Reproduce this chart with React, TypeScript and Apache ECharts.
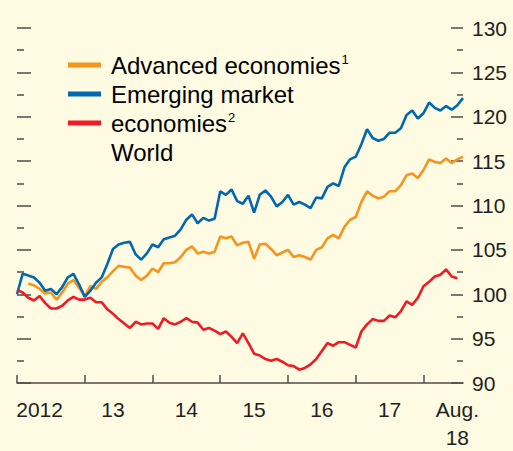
import React, { useEffect, useRef } from "react";
import * as echarts from "echarts";

const START_YEAR = 2012;
const N_MONTHS = 80; // Jan 2012 .. Aug 2018

const advanced: (number | null)[] = [
  null, null, 101.2, 101.0, 100.6, 100.1, 100.2, 99.4, 100.2, 101.2, 101.6, 100.7,
  99.8, 100.9, 100.6, 101.4, 101.9, 102.6, 103.2, 103.1, 103.0, 102.1, 101.6, 102.1,
  102.9, 102.5, 103.5, 103.5, 103.6, 104.2, 105.0, 105.4, 104.6, 104.8, 104.6, 104.8,
  106.5, 106.3, 106.5, 105.5, 105.8, 105.9, 104.0, 105.6, 105.7, 105.1, 104.4, 104.7,
  105.0, 104.2, 104.4, 104.2, 103.9, 105.0, 105.3, 106.3, 106.7, 106.3, 107.6, 108.4,
  108.7, 110.4, 111.6, 111.1, 110.8, 111.0, 111.6, 111.6, 112.3, 113.4, 113.6, 113.1,
  114.0, 115.2, 114.9, 114.8, 115.3, 114.8, 115.2, 115.5,
];

const emerging: (number | null)[] = [
  100.0, 102.3, 102.1, 101.9, 101.3, 100.4, 100.6, 100.0, 100.8, 101.9, 102.3, 101.1,
  99.7, 100.4, 101.3, 101.9, 103.4, 105.1, 105.6, 105.8, 105.9, 104.5, 103.9, 104.6,
  105.6, 105.3, 106.2, 106.4, 106.6, 107.3, 108.4, 109.0, 108.0, 108.6, 108.3, 108.5,
  111.6, 111.2, 111.8, 110.5, 110.2, 111.1, 109.2, 111.2, 111.7, 111.0, 109.9, 110.4,
  111.2, 110.1, 110.4, 110.1, 109.7, 110.9, 110.8, 112.1, 112.5, 112.2, 114.3, 115.2,
  115.5, 116.9, 118.6, 117.6, 117.3, 117.5, 118.2, 118.2, 118.7, 120.2, 120.7, 119.8,
  120.4, 121.6, 121.0, 120.7, 121.2, 120.8, 121.3, 122.1,
];

const world: (number | null)[] = [
  100.5, 100.2, 99.6, 99.3, 99.8, 99.0, 98.4, 98.4, 98.7, 99.3, 99.7, 99.4,
  99.4, 99.6, 99.1, 99.1, 98.3, 97.8, 97.2, 96.7, 96.2, 96.9, 96.6, 96.7,
  96.7, 96.1, 97.3, 96.8, 96.6, 96.9, 97.3, 96.9, 96.8, 96.0, 96.2, 95.9,
  95.5, 95.8, 95.2, 94.5, 95.6, 94.5, 93.3, 93.1, 92.7, 92.5, 92.7, 92.4,
  92.0, 91.9, 91.5, 91.7, 92.1, 92.7, 93.6, 94.5, 94.2, 94.6, 94.6, 94.3,
  94.0, 95.8, 96.6, 97.2, 97.0, 97.0, 97.6, 97.4, 98.1, 99.2, 98.8, 99.6,
  100.9, 101.4, 102.0, 102.2, 102.8, 102.0, 101.8, null,
];

const months: string[] = Array.from({ length: N_MONTHS }, (_, i) => {
  const y = START_YEAR + Math.floor(i / 12);
  const m = (i % 12) + 1;
  return `${y}-${m < 10 ? "0" + m : m}`;
});

// x-axis labels, keyed by the month index they sit under
const xLabels: Record<number, string> = {
  4: "2012",
  17: "13",
  30: "14",
  42: "15",
  54: "16",
  66: "17",
  78: "Aug.\n18",
};

const yMin = 90;
const yMax = 130;
const yStep = 5;

const ORANGE = "#f7941d";
const BLUE = "#0067b1";
const RED = "#ed1c24";
const TEXT = "#231f20";
const TICK = "#4d4d4d";
const BG = "#fefbe2";
const FONT = "'Liberation Sans', Arial, sans-serif";

export default function App() {
  const ref = useRef<HTMLDivElement>(null);

  useEffect(() => {
    document.body.style.margin = "0";
    document.body.style.overflow = "hidden";
    document.documentElement.style.overflow = "hidden";
    if (!ref.current) return;
    const chart = echarts.init(ref.current, undefined, { renderer: "svg" });

    const legendItems = [
      { color: ORANGE, y: 65 },
      { color: BLUE, y: 94 },
      { color: RED, y: 123 },
    ];
    const legendTexts = [
      { text: "{a|Advanced economies}{s|1}", y: 65 },
      { text: "{a|Emerging market}", y: 94 },
      { text: "{a|economies}{s|2}", y: 123 },
      { text: "{a|World}", y: 152 },
    ];
    const rich = {
      a: { fontSize: 24, fontFamily: FONT, color: TEXT },
      s: { fontSize: 13, fontFamily: FONT, color: TEXT, padding: [0, 0, 11, 1] },
    };

    chart.setOption({
      animation: false,
      backgroundColor: BG,
      grid: { left: 17, right: 50, top: 28, bottom: 58, containLabel: false },
      xAxis: {
        type: "category",
        data: months,
        boundaryGap: false,
        axisLine: { show: true, lineStyle: { color: TICK, width: 1.5 } },
        axisTick: {
          show: true,
          inside: true,
          length: 8,
          interval: (i: number) => i % 12 === 0,
          lineStyle: { color: TICK, width: 1.5 },
        },
        axisLabel: {
          show: true,
          interval: (i: number) => xLabels[i] !== undefined,
          formatter: (_v: string, i: number) => xLabels[i] ?? "",
          color: TEXT,
          fontSize: 21,
          fontFamily: FONT,
          margin: 12,
          lineHeight: 28,
        },
        splitLine: { show: false },
      },
      yAxis: [
        {
          type: "value",
          position: "left",
          min: yMin,
          max: yMax,
          interval: yStep,
          axisLine: { show: false },
          axisLabel: { show: false },
          axisTick: { show: true, inside: true, length: 14, lineStyle: { color: TICK, width: 1.5 } },
          minorTick: { show: true, splitNumber: 2, length: 7, lineStyle: { color: TICK, width: 1.5 } },
          splitLine: { show: false },
        },
        {
          type: "value",
          position: "right",
          min: yMin,
          max: yMax,
          interval: yStep,
          axisLine: { show: false },
          axisLabel: { show: true, color: TEXT, fontSize: 21, fontFamily: FONT, margin: 9 },
          axisTick: { show: true, inside: true, length: 12, lineStyle: { color: TICK, width: 1.5 } },
          minorTick: { show: true, splitNumber: 2, length: 6, lineStyle: { color: TICK, width: 1.5 } },
          splitLine: { show: false },
        },
      ],
      series: [
        {
          name: "Advanced economies",
          type: "line",
          data: advanced,
          symbol: "none",
          lineStyle: { color: ORANGE, width: 2.6 },
          itemStyle: { color: ORANGE },
        },
        {
          name: "Emerging market economies",
          type: "line",
          data: emerging,
          symbol: "none",
          lineStyle: { color: BLUE, width: 2.6 },
          itemStyle: { color: BLUE },
        },
        {
          name: "World",
          type: "line",
          data: world,
          symbol: "none",
          lineStyle: { color: RED, width: 2.6 },
          itemStyle: { color: RED },
        },
      ],
      graphic: [
        ...legendItems.map((l) => ({
          type: "line",
          shape: { x1: 68, y1: l.y, x2: 101, y2: l.y },
          style: { stroke: l.color, lineWidth: 5 },
        })),
        ...legendTexts.map((t) => ({
          type: "text",
          x: 111,
          y: t.y,
          style: {
            text: t.text,
            rich,
            verticalAlign: "middle",
            align: "left",
          },
        })),
      ],
    });

    return () => chart.dispose();
  }, []);

  return <div ref={ref} style={{ width: 513, height: 451 }} />;
}
